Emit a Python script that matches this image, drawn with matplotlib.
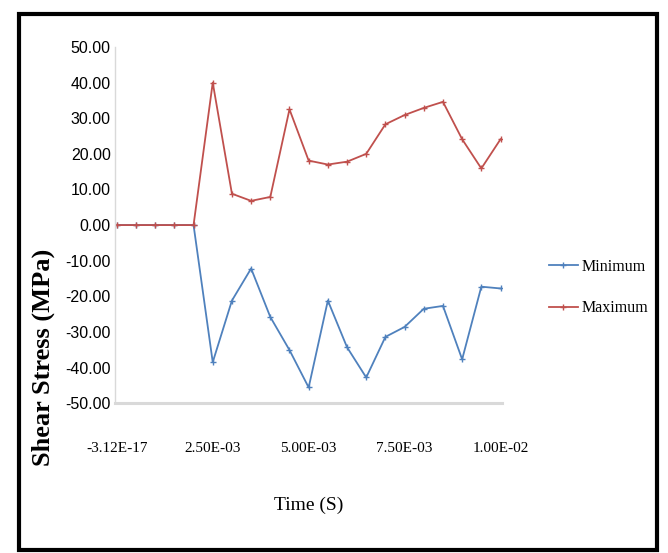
import matplotlib
matplotlib.use("Agg")
import matplotlib.pyplot as plt
from matplotlib.patches import Rectangle

# time steps (s) and shear stress (MPa)
time = [0.0, 0.0005, 0.0010, 0.0015, 0.0020, 0.0025, 0.0030, 0.0035, 0.0040,
        0.0045, 0.0050, 0.0055, 0.0060, 0.0065, 0.0070, 0.0075, 0.0080,
        0.0085, 0.0090, 0.0095, 0.0100]
minimum = [0, 0, 0, 0, 0, -38.5, -21.2, -12.2, -25.8, -35.1, -45.6, -21.2,
           -34.3, -42.8, -31.4, -28.6, -23.5, -22.7, -37.7, -17.3, -17.8]
maximum = [0, 0, 0, 0, 0, 40.0, 8.8, 6.8, 7.9, 32.5, 18.1, 17.0, 17.8,
           20.0, 28.3, 30.9, 32.9, 34.6, 24.1, 15.9, 24.1]

xticks = [0.0, 0.0025, 0.005, 0.0075, 0.01]
xtick_labels = ["-3.12E-17", "2.50E-03", "5.00E-03", "7.50E-03", "1.00E-02"]
yticks = [-50, -40, -30, -20, -10, 0, 10, 20, 30, 40, 50]

SERIF = ["Liberation Serif", "DejaVu Serif"]
SANS = ["Liberation Sans", "DejaVu Sans"]

fig = plt.figure(figsize=(6.68, 5.53), dpi=100)
ax = fig.add_axes([0.172, 0.271, 0.579, 0.644])

ax.plot(time, minimum, color="#4F81BD", lw=1.3, marker="+", ms=5, mew=1.0,
        label="Minimum")
ax.plot(time, maximum, color="#C0504D", lw=1.3, marker="+", ms=5, mew=1.0,
        label="Maximum")

ax.set_xlim(-0.00005, 0.01003)
ax.set_ylim(-50, 50)

ax.set_xticks(xticks)
ax.set_xticklabels(xtick_labels, family=SERIF, fontsize=11)
ax.set_yticks(yticks)
ax.set_yticklabels(["%.2f" % v for v in yticks], family=SANS, fontsize=11.5)
ax.tick_params(axis="x", length=0, pad=28)
ax.tick_params(axis="y", length=0, pad=3)

for s in ["top", "right"]:
    ax.spines[s].set_visible(False)
ax.spines["left"].set_color("#d9d9d9")
ax.spines["left"].set_linewidth(1.0)
ax.spines["bottom"].set_color("#d9d9d9")
ax.spines["bottom"].set_linewidth(2.2)

fig.text(0.462, 0.087, "Time (S)", family=SERIF, fontsize=14,
         ha="center", va="center")
fig.text(0.065, 0.353, "Shear Stress (MPa)", family=SERIF, fontsize=19,
         fontweight="bold", rotation=90, ha="center", va="center")

fig.legend(loc="center left", bbox_to_anchor=(0.822, 0.48), frameon=False,
           prop={"family": SERIF, "size": 11.5}, handlelength=1.8,
           handletextpad=0.25, labelspacing=1.6, borderpad=0,
           borderaxespad=0)

# black frame around the whole picture
fig.patches.append(Rectangle((0.028, 0.006), 0.955, 0.968,
                             transform=fig.transFigure, fill=False,
                             edgecolor="black", linewidth=3))

fig.savefig("out.png", dpi=100, facecolor="white")
